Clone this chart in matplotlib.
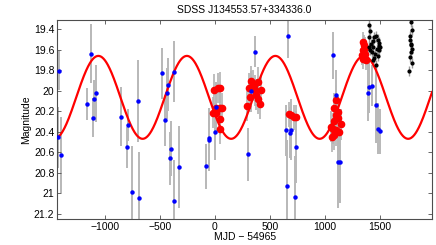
import numpy as np
import matplotlib
matplotlib.use("Agg")
import matplotlib.pyplot as plt

plt.rcParams['font.family'] = ['Liberation Sans', 'DejaVu Sans']

# blue: sparse archival photometry (MJD-54965, mag, err)
blue_t = [-1428, -1417, -1402, -1166, -1129, -1111, -1102, -1081, -857, -791, -797, -700,
          -758, -691, -483, -431, -434, -368, -455, -398, -404, -326, -368, -77, -56, -50,
          -2, 13, 304, 367, 669, 331, 651, 685, 694, 742, 660, 727, 1071, 1102, 1120, 1134,
          1392, 1398, 1431, 1465, 1480, 1497]
blue_m = [20.455, 19.805, 20.628, 20.13, 19.637, 20.264, 20.082, 20.024, 20.254, 20.335, 20.553, 20.098,
          20.99, 21.05, 19.829, 19.942, 20.027, 19.815, 20.29, 20.566, 20.66, 20.748, 21.076, 20.738, 20.465, 20.48,
          20.40, 20.163, 20.62, 19.617, 19.468, 20.004, 20.387, 20.41, 20.38, 20.55, 20.93, 21.037, 19.653, 20.046, 20.696, 20.70,
          20.02, 19.965, 19.952, 20.137, 20.371, 20.394]
blue_e = [0.30, 0.19, 0.37, 0.16, 0.29, 0.19, 0.19, 0.28, 0.29, 0.16, 0.20, 0.40,
          0.45, 0.45, 0.25, 0.26, 0.25, 0.30, 0.25, 0.27, 0.26, 0.40, 0.40, 0.22, 0.30, 0.30,
          0.28, 0.25, 0.26, 0.15, 0.21, 0.20, 0.25, 0.25, 0.30, 0.35, 0.45, 0.40, 0.23, 0.25, 0.45, 0.40,
          0.28, 0.25, 0.20, 0.37, 0.25, 0.22]

# red: dense photometry
red_t = [-17, 7, -8, 28, 49, 43, 62, 46, 43, 13,
         331, 307, 392, 422, 367, 322, 392, 408, 294, 376, 349,
         678, 693, 720, 735,
         1102, 1087, 1117, 1057, 1072, 1102, 1132, 1087, 1063, 1117, 1147, 1102, 1081,
         1343, 1358, 1343, 1367, 1349, 1373, 1337, 1361]
red_m = [20.215, 20.215, 19.99, 19.975, 19.97, 20.165, 20.17, 20.28, 20.37, 20.17,
         19.907, 19.978, 19.914, 19.995, 19.995, 20.06, 20.08, 20.13, 20.15, 20.04, 19.95,
         20.23, 20.24, 20.26, 20.26,
         20.092, 20.17, 20.205, 20.35, 20.37, 20.386, 20.40, 20.43, 20.45, 20.27, 20.33, 20.24, 20.30,
         19.523, 19.556, 19.605, 19.637, 19.686, 19.70, 19.653, 19.58]
red_e = [0.15, 0.15, 0.15, 0.15, 0.15, 0.15, 0.15, 0.15, 0.15, 0.15,
         0.15, 0.15, 0.15, 0.15, 0.15, 0.15, 0.15, 0.15, 0.15, 0.15, 0.15,
         0.12, 0.12, 0.12, 0.12,
         0.15, 0.15, 0.15, 0.15, 0.15, 0.15, 0.2, 0.15, 0.15, 0.15, 0.15, 0.15, 0.15,
         0.1, 0.1, 0.1, 0.1, 0.1, 0.1, 0.1, 0.1]

# black: recent photometry
black_t = [1404, 1410, 1398, 1434, 1449, 1464, 1479, 1494, 1419, 1440, 1470, 1488, 1428, 1458,
           1410, 1449, 1464, 1434, 1494, 1479, 1404, 1503,
           1782, 1791, 1773, 1779, 1791, 1782, 1773, 1791, 1767, 1785, 1773]
black_m = [19.36, 19.42, 19.48, 19.51, 19.48, 19.47, 19.50, 19.53, 19.54, 19.57, 19.59, 19.60, 19.62, 19.64,
           19.60, 19.68, 19.75, 19.70, 19.56, 19.66, 19.57, 19.57,
           19.33, 19.41, 19.47, 19.54, 19.59, 19.62, 19.67, 19.73, 19.81, 19.55, 19.50]
black_e = [0.05] * len(black_t)

# sinusoidal model
period = 805.0
t_peak = 550.0
mean_mag = 20.065
amp = 0.405

fig, ax = plt.subplots(figsize=(4.36, 2.45), dpi=100)
fig.subplots_adjust(left=0.131, right=0.991, bottom=0.106, top=0.918)

ax.errorbar(red_t, red_m, yerr=red_e, fmt='none', ecolor='0.7', elinewidth=1.2, zorder=1)
ax.errorbar(blue_t, blue_m, yerr=blue_e, fmt='none', ecolor='0.72', elinewidth=1.4, zorder=1)
ax.errorbar(black_t, black_m, yerr=black_e, fmt='none', ecolor='0.6', elinewidth=1.0, zorder=1)

tt = np.linspace(-1435, 1975, 800)
model = mean_mag - amp * np.cos(2 * np.pi * (tt - t_peak) / period)
ax.plot(tt, model, color='red', lw=1.6, zorder=3)

ax.plot(red_t, red_m, 'o', color='red', ms=4.5, mec='red', zorder=2)
ax.plot(blue_t, blue_m, 'o', color='blue', ms=2.2, mec='blue', zorder=4)
ax.plot(black_t, black_m, 'o', color='black', ms=2.0, zorder=4)

ax.set_xlim(-1435, 1975)
ax.set_ylim(21.254, 19.31)
ax.set_xticks([-1000, -500, 0, 500, 1000, 1500])
ax.set_xticklabels(['\u22121000', '\u2212500', '0', '500', '1000', '1500'])
ax.set_yticks([19.4, 19.6, 19.8, 20, 20.2, 20.4, 20.6, 20.8, 21, 21.2])
ax.set_yticklabels(['19.4', '19.6', '19.8', '20', '20.2', '20.4', '20.6', '20.8', '21', '21.2'])
ax.tick_params(direction='in', top=True, right=True, length=3, width=0.6,
               labelsize=7.5, pad=2, color='0.3')
for s in ax.spines.values():
    s.set_color('0.3')
    s.set_linewidth(0.8)

ax.set_xlabel('MJD \u2212 54965', fontsize=7.5, labelpad=0)
ax.set_ylabel('Magnitude', fontsize=7.5, labelpad=2)
ax.set_title('SDSS J134553.57+334336.0', fontsize=7.5, pad=5)

fig.savefig('out.png', dpi=100)
